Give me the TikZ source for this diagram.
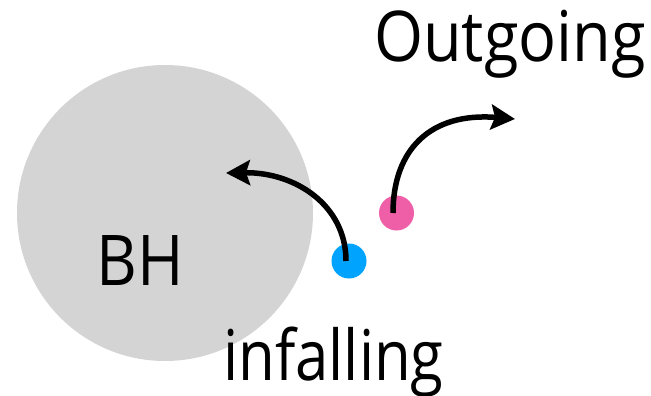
\documentclass[tikz,border=0pt]{standalone}
\usepackage{fontspec}
\setmainfont{Open Sans}
\newfontfamily\gillish[FakeStretch=0.9]{Open Sans}
\usetikzlibrary{arrows.meta}
\definecolor{bhgray}{RGB}{212,212,212}
\definecolor{inblue}{RGB}{0,164,255}
\definecolor{outpink}{RGB}{238,95,168}
\begin{document}
\begin{tikzpicture}[x=1pt,y=-1pt,
  lbl/.style={font=\gillish\fontsize{70}{84}\selectfont, inner sep=0pt, anchor=base},
  dot/.style={circle, inner sep=0pt, minimum size=35pt},
  flow/.style={line width=5.5pt, -{Stealth[length=24pt,width=25pt,inset=4pt]}}]
\useasboundingbox (0,0) rectangle (651,396);
\node[circle, fill=bhgray, minimum size=296pt, inner sep=0pt] (bh) at (165,213) {};
\node[dot, fill=inblue] (blue) at (349,261) {};
\node[dot, fill=outpink] (pink) at (396.5,213) {};
\coordinate (inend) at (226,173);
\coordinate (outend) at (515,119);
\draw[flow] ([xshift=-3pt]blue.center) .. controls (346,205) and (295,172) .. (inend);
\draw[flow] ([xshift=-3.5pt]pink.center) .. controls (393,150) and (430,112) .. (outend);
\node[lbl] (tout) at (510,62) {Outgoing};
\node[lbl] (tbh) at (140,285) {BH};
\node[lbl] (tin) at (333.5,380) {\scalebox{0.95}[1]{infalling}};
\end{tikzpicture}
\end{document}
